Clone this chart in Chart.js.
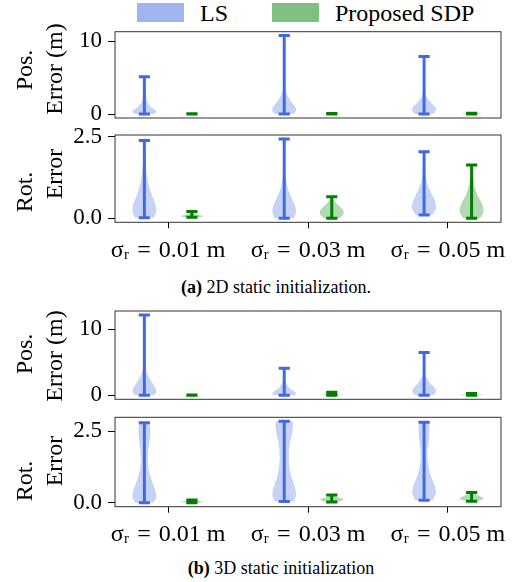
<!DOCTYPE html>
<html>
<head>
<meta charset="utf-8">
<script src="https://cdn.jsdelivr.net/npm/chart.js@4.4.1/dist/chart.umd.min.js"></script>
<style>
  body { margin: 0; background: #fff; }
  #fig { position: relative; width: 526px; height: 582px; overflow: hidden;
         font-family: "Liberation Serif", "Times New Roman", serif; color: #000; }
  #fig canvas { position: absolute; left: 0; }
  .ylab { position: absolute; white-space: nowrap; font-size: 24px; line-height: 1;
          transform: translate(-50%, -50%) rotate(-90deg); }
  .cap { position: absolute; white-space: nowrap; font-size: 18px; transform: translate(-50%, -50%); }
  .leg-box { position: absolute; width: 47px; height: 19px; }
  .leg-txt { position: absolute; font-size: 24px; line-height: 1; transform: translateY(-50%); white-space: nowrap; }
</style>
</head>
<body>
<div id="fig"></div>
<script>
// Violin plots: LS vs proposed SDP, 2D / 3D static initialization
// ----------------------------------------------------------------

// x categories (noise level) and tick values
const groupLabels = ['σᵣ\u2004=\u20040.01 m', 'σᵣ\u2004=\u20040.03 m', 'σᵣ\u2004=\u20040.05 m'];
const groupPos = [0, 1, 2];
const posTicks = [0, 10];
const rotTicks = [0, 2.5];

// Each violin: y = sample values from min to max (whisker ends),
// w = relative half-width of the density at that y (1 = widest)
const ls2dPos = [
  { y: [0.02, 0.3, 0.6, 1.0, 1.5, 2.0, 3.0, 4.0, 5.15], w: [0.85, 1.0, 0.9, 0.55, 0.3, 0.18, 0.08, 0.04, 0.02] },
  { y: [0.02, 0.3, 0.7, 1.2, 1.8, 2.5, 3.2, 4.0, 6.0, 8.0, 10.77], w: [0.7, 0.95, 1.0, 0.85, 0.55, 0.3, 0.12, 0.06, 0.03, 0.02, 0.01] },
  { y: [0.02, 0.4, 0.8, 1.3, 1.8, 2.4, 3.0, 4.0, 6.0, 7.9], w: [0.75, 0.95, 1.0, 0.75, 0.45, 0.2, 0.1, 0.05, 0.02, 0.01] },
];
const sdp2dPos = [
  { y: [0.02, 0.04, 0.06, 0.08], w: [0.6, 1.0, 0.7, 0.3] },
  { y: [0.02, 0.04, 0.06, 0.09], w: [0.6, 1.0, 0.7, 0.3] },
  { y: [0.03, 0.06, 0.09, 0.12], w: [0.6, 1.0, 0.7, 0.3] },
];
const ls2dRot = [
  { y: [0.02, 0.2, 0.4, 0.6, 0.8, 1.0, 1.3, 1.6, 2.0, 2.38], w: [0.8, 1.0, 0.95, 0.75, 0.55, 0.38, 0.22, 0.14, 0.08, 0.03] },
  { y: [0.0, 0.2, 0.4, 0.6, 0.8, 1.0, 1.3, 1.8, 2.43], w: [0.8, 1.0, 0.9, 0.65, 0.42, 0.25, 0.12, 0.05, 0.02] },
  { y: [0.1, 0.3, 0.5, 0.7, 0.9, 1.1, 1.4, 1.7, 2.04], w: [0.7, 1.0, 0.95, 0.7, 0.45, 0.25, 0.12, 0.06, 0.03] },
];
const sdp2dRot = [
  { y: [0.03, 0.06, 0.09, 0.12, 0.15, 0.18, 0.21], w: [0.5, 1.0, 0.8, 0.45, 0.2, 0.1, 0.05] },
  { y: [0.0, 0.1, 0.2, 0.3, 0.4, 0.5, 0.6, 0.66], w: [0.6, 0.95, 1.0, 0.85, 0.55, 0.3, 0.12, 0.08] },
  { y: [0.0, 0.15, 0.3, 0.5, 0.7, 0.9, 1.1, 1.3, 1.63], w: [0.7, 0.95, 1.0, 0.8, 0.5, 0.3, 0.18, 0.1, 0.04] },
];
const ls3dPos = [
  { y: [0.02, 0.5, 1.0, 1.5, 2.2, 3.0, 3.8, 5.0, 7.0, 9.5, 12.15], w: [0.8, 1.0, 0.95, 0.8, 0.55, 0.32, 0.15, 0.07, 0.03, 0.02, 0.01] },
  { y: [0.02, 0.3, 0.6, 1.0, 1.5, 2.0, 2.8, 4.1], w: [0.85, 1.0, 0.85, 0.5, 0.28, 0.14, 0.06, 0.02] },
  { y: [0.02, 0.4, 0.8, 1.3, 1.8, 2.4, 3.0, 4.0, 5.2, 6.5], w: [0.75, 0.95, 1.0, 0.8, 0.55, 0.3, 0.12, 0.05, 0.03, 0.02] },
];
const sdp3dPos = [
  { y: [0.02, 0.04, 0.06], w: [0.6, 1.0, 0.5] },
  { y: [0.02, 0.08, 0.15, 0.25, 0.35, 0.48], w: [0.7, 1.0, 0.6, 0.3, 0.12, 0.05] },
  { y: [0.02, 0.06, 0.12, 0.2, 0.3], w: [0.7, 1.0, 0.6, 0.25, 0.08] },
];
const ls3dRot = [
  { y: [0.01, 0.2, 0.4, 0.7, 1.0, 1.3, 1.6, 1.9, 2.2, 2.5, 2.7, 2.79], w: [0.75, 1.0, 0.95, 0.7, 0.45, 0.32, 0.3, 0.35, 0.45, 0.5, 0.45, 0.4] },
  { y: [0.05, 0.3, 0.6, 0.9, 1.2, 1.6, 2.0, 2.3, 2.6, 2.84], w: [0.8, 1.0, 0.85, 0.6, 0.45, 0.38, 0.45, 0.6, 0.72, 0.65] },
  { y: [0.09, 0.35, 0.6, 0.9, 1.2, 1.5, 1.8, 2.1, 2.4, 2.65, 2.81], w: [0.75, 1.0, 0.9, 0.6, 0.4, 0.3, 0.3, 0.38, 0.45, 0.45, 0.38] },
];
const sdp3dRot = [
  { y: [0.01, 0.04, 0.07, 0.1], w: [0.5, 1.0, 0.6, 0.2] },
  { y: [0.03, 0.08, 0.13, 0.18, 0.24, 0.28], w: [0.3, 0.8, 1.0, 0.6, 0.2, 0.08] },
  { y: [0.06, 0.12, 0.17, 0.23, 0.3, 0.36], w: [0.4, 0.9, 1.0, 0.7, 0.35, 0.12] },
];

// -------------------------------------------------------------------------
// Styling
// -------------------------------------------------------------------------
const FONT = '"Liberation Serif", "Times New Roman", serif';
const LS_LINE = '#4169e1';
const LS_FILL = 'rgba(65,105,225,0.3)';
const LS_LEG = 'rgba(65,105,225,0.5)';
const SDP_LINE = '#008000';
const SDP_FILL = 'rgba(0,128,0,0.3)';
const SDP_LEG = 'rgba(0,128,0,0.5)';

const OFFSET = 0.17;   // dodge of each method around the group tick
const HALF = 0.085;    // max half-width of a violin (x units)
const CAP = 0.04;      // half length of the whisker caps
const XAXIS_H = 45;    // room under the lower panels for the sigma labels

// panel layout: chart area top / bottom in page pixels
const panels = [
  { top: 31.7, bottom: 118, ls: ls2dPos, sdp: sdp2dPos, ticks: posTicks, digits: 0, xLabels: false,
    ylab: [['Pos.', 24, 70], ['Error (m)', 54, 69]] },
  { top: 135, bottom: 222.3, ls: ls2dRot, sdp: sdp2dRot, ticks: rotTicks, digits: 1, xLabels: true,
    ylab: [['Rot.', 24, 192], ['Error', 54, 174]] },
  { top: 311, bottom: 399.3, ls: ls3dPos, sdp: sdp3dPos, ticks: posTicks, digits: 0, xLabels: false,
    ylab: [['Pos.', 24, 354], ['Error (m)', 54, 356]] },
  { top: 417.3, bottom: 506.7, ls: ls3dRot, sdp: sdp3dRot, ticks: rotTicks, digits: 1, xLabels: true,
    ylab: [['Rot.', 24, 481], ['Error', 54, 461]] },
];

const fig = document.getElementById('fig');

// -------------------------------------------------------------------------
// Helpers
// -------------------------------------------------------------------------
function violinPoints(v, x) {
  const right = v.y.map((y, k) => ({ x: x + HALF * v.w[k], y }));
  const left = v.y.map((y, k) => ({ x: x - HALF * v.w[k], y })).reverse();
  return right.concat(left);
}

function whiskerPoints(v, x) {
  const lo = v.y[0];
  const hi = v.y[v.y.length - 1];
  return [
    { x: x - CAP, y: hi }, { x: x + CAP, y: hi }, { x, y: hi },
    { x, y: lo }, { x: x - CAP, y: lo }, { x: x + CAP, y: lo },
  ];
}

function yRange(sets) {
  let lo = Infinity, hi = -Infinity;
  sets.forEach((v) => {
    lo = Math.min(lo, v.y[0]);
    hi = Math.max(hi, v.y[v.y.length - 1]);
  });
  const m = (hi - lo) * 0.05;
  return [lo - m, hi + m];
}

// axes frame (all four sides)
const framePlugin = {
  id: 'frame',
  afterDatasetsDraw(chart) {
    const { ctx, chartArea: a } = chart;
    ctx.save();
    ctx.strokeStyle = '#333';
    ctx.lineWidth = 1;
    ctx.strokeRect(a.left, a.top, a.right - a.left, a.bottom - a.top);
    ctx.restore();
  },
};

function buildDatasets(p) {
  const datasets = [];
  groupPos.forEach((g, i) => {
    [[p.ls[i], g - OFFSET, LS_LINE, LS_FILL], [p.sdp[i], g + OFFSET, SDP_LINE, SDP_FILL]].forEach(([v, x, line, fill]) => {
      datasets.push({
        data: violinPoints(v, x),
        fill: 'shape',
        backgroundColor: fill,
        borderColor: 'rgba(0,0,0,0)',
        borderWidth: 0,
        pointRadius: 0,
        tension: 0.3,
        order: 1,
      });
      datasets.push({
        data: whiskerPoints(v, x),
        fill: false,
        borderColor: line,
        borderWidth: 3,
        borderCapStyle: 'butt',
        borderJoinStyle: 'bevel',
        pointRadius: 0,
        tension: 0,
        order: 0,
      });
    });
  });
  return datasets;
}

function makePanel(p) {
  const extra = p.xLabels ? XAXIS_H : 10;
  const cTop = Math.floor(p.top) - 12;
  const h = Math.ceil(p.bottom + extra) - cTop;
  const padTop = p.top - cTop;
  const padBottom = cTop + h - p.bottom - (p.xLabels ? XAXIS_H : 0);

  const canvas = document.createElement('canvas');
  canvas.width = 526;
  canvas.height = h;
  canvas.style.top = cTop + 'px';
  fig.appendChild(canvas);

  const [ymin, ymax] = yRange(p.ls.concat(p.sdp));

  new Chart(canvas.getContext('2d'), {
    type: 'line',
    data: { datasets: buildDatasets(p) },
    options: {
      responsive: false,
      animation: false,
      devicePixelRatio: 1,
      layout: { padding: { top: padTop, bottom: padBottom, left: 0, right: 25 } },
      plugins: { legend: { display: false }, tooltip: { enabled: false } },
      scales: {
        x: {
          type: 'linear',
          min: -0.38,
          max: 2.38,
          display: p.xLabels,
          afterBuildTicks: (s) => { s.ticks = groupPos.map((v) => ({ value: v })); },
          afterFit: (s) => {
            s.height = p.xLabels ? XAXIS_H : 0;
            s.paddingLeft = 0;
            s.paddingRight = 0;
          },
          ticks: {
            callback: (v) => groupLabels[groupPos.indexOf(v)],
            font: { family: FONT, size: 24 },
            color: '#000',
            padding: 8,
            maxRotation: 0,
            autoSkip: false,
          },
          grid: { drawOnChartArea: false, tickLength: 6, color: '#000', tickWidth: 1 },
          border: { display: false },
        },
        y: {
          type: 'linear',
          min: ymin,
          max: ymax,
          afterBuildTicks: (s) => { s.ticks = p.ticks.map((v) => ({ value: v })); },
          afterFit: (s) => { s.width = 115; s.paddingTop = 0; s.paddingBottom = 0; },
          ticks: {
            callback: (v) => v.toFixed(p.digits),
            font: { family: FONT, size: 23 },
            color: '#000',
            padding: 6,
          },
          grid: { drawOnChartArea: false, tickLength: 7, color: '#000', tickWidth: 1 },
          border: { display: false },
        },
      },
    },
    plugins: [framePlugin],
  });

  p.ylab.forEach(([text, x, y]) => {
    const d = document.createElement('div');
    d.className = 'ylab';
    d.style.left = x + 'px';
    d.style.top = y + 'px';
    d.textContent = text;
    fig.appendChild(d);
  });
}

function addLegend() {
  [[LS_LEG, 137, 'LS', 200], [SDP_LEG, 272, 'Proposed SDP', 335]].forEach(([color, bx, label, tx]) => {
    const box = document.createElement('div');
    box.className = 'leg-box';
    box.style.left = bx + 'px';
    box.style.top = '3px';
    box.style.background = color;
    fig.appendChild(box);
    const t = document.createElement('div');
    t.className = 'leg-txt';
    t.style.left = tx + 'px';
    t.style.top = '13px';
    t.textContent = label;
    fig.appendChild(t);
  });
}

function addCaption(tag, text, x, y) {
  const c = document.createElement('div');
  c.className = 'cap';
  c.style.left = x + 'px';
  c.style.top = y + 'px';
  const b = document.createElement('b');
  b.textContent = tag;
  c.appendChild(b);
  c.appendChild(document.createTextNode(' ' + text));
  fig.appendChild(c);
}

window.addEventListener('DOMContentLoaded', () => {
  addLegend();
  panels.forEach(makePanel);
  addCaption('(a)', '2D static initialization.', 276, 287);
  addCaption('(b)', '3D static initialization', 281, 568);
});
</script>
</body>
</html>
